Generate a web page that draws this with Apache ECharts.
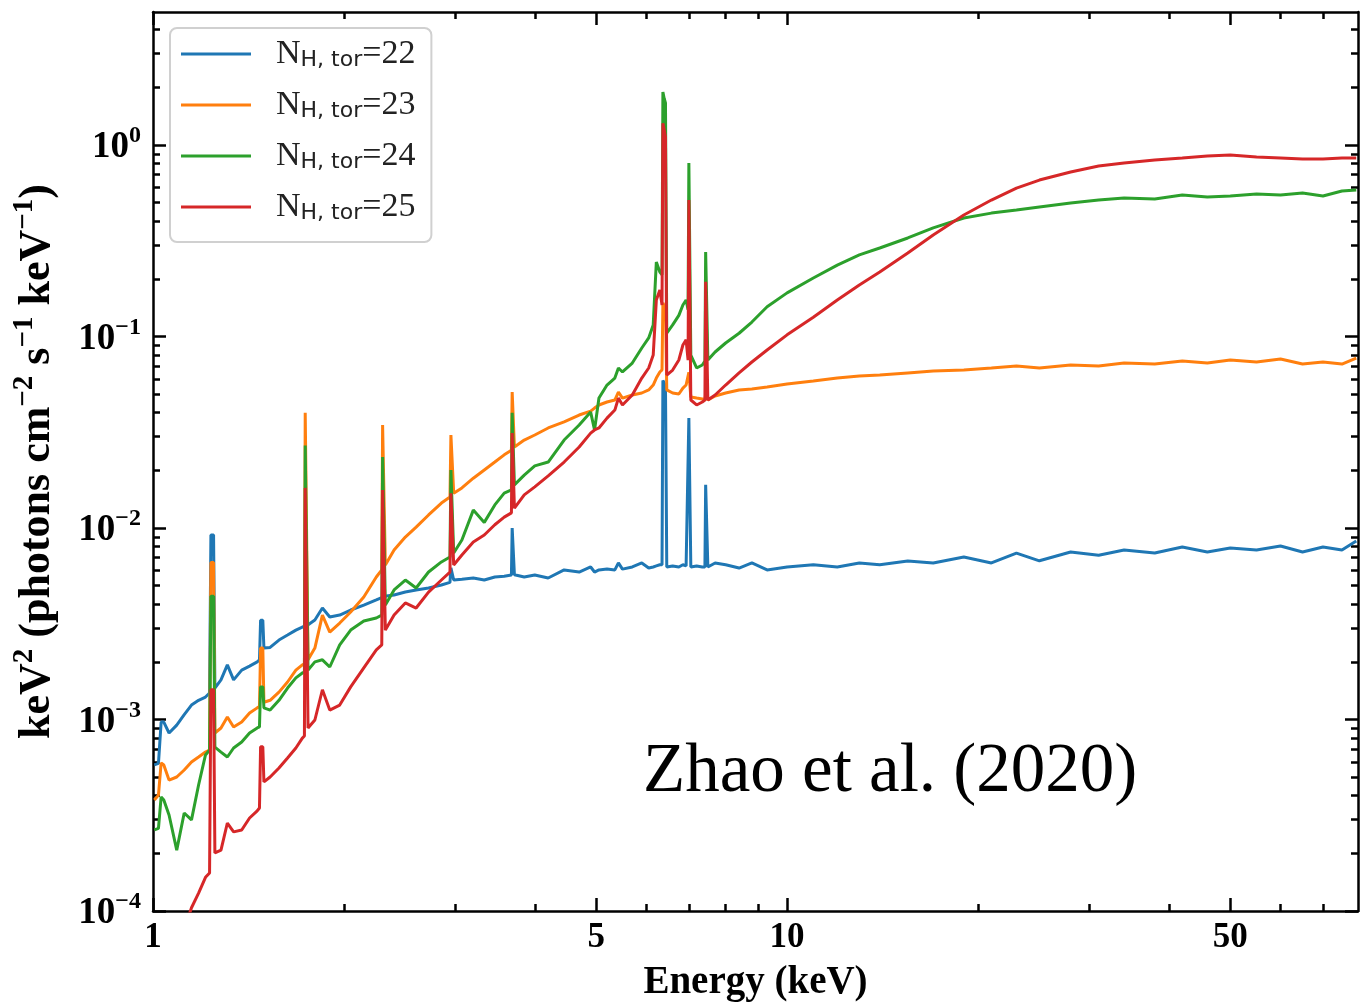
<!DOCTYPE html>
<html>
<head>
<meta charset="utf-8">
<title>Torus column density spectra</title>
<script src="https://cdn.jsdelivr.net/npm/echarts@6.0.0/dist/echarts.min.js"></script>
<style>
  html, body { margin: 0; padding: 0; background: #fff; }
  #chart { width: 1366px; height: 1005px; }
</style>
</head>
<body>
<div id="chart"></div>
<script>
// energy grid in keV, shared by the four spectra (line energies get a narrow pair of points)
var energy = [
  1.005, 1.02, 1.03, 1.04, 1.06, 1.09, 1.12, 1.15, 1.18, 1.21,
  1.228, 1.234, 1.246, 1.252, 1.28, 1.31, 1.34, 1.38, 1.42, 1.46,
  1.472, 1.478, 1.49, 1.496, 1.53, 1.58, 1.63, 1.68, 1.72, 1.733,
  1.738, 1.75, 1.756, 1.80, 1.85, 1.90, 1.97, 2.05, 2.15, 2.25,
  2.295, 2.302, 2.318, 2.325, 2.40, 2.50, 2.60, 2.72, 2.85, 2.94,
  2.95, 2.97, 2.98, 3.07, 3.20, 3.33, 3.46, 3.58, 3.675, 3.685,
  3.705, 3.715, 3.85, 4.0, 4.2, 4.45, 4.7, 4.9, 4.97, 5.05,
  5.2, 5.35, 5.42, 5.5, 5.7, 5.9, 6.05, 6.15, 6.22, 6.30,
  6.35, 6.37, 6.40, 6.43, 6.46, 6.60, 6.75, 6.85, 6.93, 6.98,
  7.00, 7.03, 7.05, 7.20, 7.35, 7.42, 7.44, 7.48, 7.50, 7.70,
  8.0, 8.4, 8.8, 9.3, 10, 11, 12, 13, 14, 15.5,
  17, 19, 21, 23, 25, 28, 31, 34, 38, 42,
  46, 50, 55, 60, 65, 70, 75, 79
];

// keV^2 (photons cm^-2 s^-1 keV^-1), log NH,tor = 22
var nh22 = [
  5.8e-4, 5.9e-4, 9.7e-4, 9.7e-4, 8.5e-4, 9.35e-4, 1.06e-3, 1.19e-3, 1.26e-3, 1.31e-3,
  1.375e-3, 9.2e-3, 9.2e-3, 1.46e-3, 1.61e-3, 1.93e-3, 1.61e-3, 1.81e-3, 1.90e-3, 2.0e-3,
  2.05e-3, 3.3e-3, 3.3e-3, 2.36e-3, 2.38e-3, 2.60e-3, 2.76e-3, 2.93e-3, 3.04e-3, 3.06e-3,
  3.1e-3, 3.1e-3, 3.04e-3, 3.31e-3, 3.82e-3, 3.43e-3, 3.51e-3, 3.73e-3, 3.96e-3, 4.21e-3,
  4.33e-3, 4.4e-3, 4.4e-3, 4.42e-3, 4.47e-3, 4.63e-3, 4.75e-3, 4.86e-3, 5.04e-3, 5.2e-3,
  6.2e-3, 6.2e-3, 5.35e-3, 5.4e-3, 5.48e-3, 5.35e-3, 5.55e-3, 5.6e-3, 5.68e-3, 1.0e-2,
  1.0e-2, 5.7e-3, 5.55e-3, 5.68e-3, 5.48e-3, 6.04e-3, 5.89e-3, 6.26e-3, 5.89e-3, 6.04e-3,
  6.1e-3, 6.04e-3, 6.57e-3, 6.1e-3, 6.26e-3, 6.57e-3, 6.18e-3, 6.26e-3, 6.34e-3, 6.43e-3,
  6.43e-3, 5.9e-2, 5.9e-2, 5.5e-2, 6.26e-3, 6.34e-3, 6.26e-3, 6.43e-3, 6.34e-3, 6.34e-3,
  3.75e-2, 3.75e-2, 6.26e-3, 6.34e-3, 6.26e-3, 6.26e-3, 1.68e-2, 1.68e-2, 6.26e-3, 6.57e-3,
  6.43e-3, 6.18e-3, 6.57e-3, 6.04e-3, 6.26e-3, 6.43e-3, 6.26e-3, 6.57e-3, 6.43e-3, 6.72e-3,
  6.57e-3, 7.06e-3, 6.57e-3, 7.40e-3, 6.74e-3, 7.49e-3, 7.2e-3, 7.67e-3, 7.40e-3, 7.96e-3,
  7.49e-3, 7.86e-3, 7.67e-3, 8.05e-3, 7.49e-3, 7.96e-3, 7.67e-3, 8.55e-3
];

// log NH,tor = 23
var nh23 = [
  3.80e-4, 4.03e-4, 5.93e-4, 5.79e-4, 4.83e-4, 5.01e-4, 5.45e-4, 6.0e-4, 6.37e-4, 6.76e-4,
  6.93e-4, 6.6e-3, 6.6e-3, 8.5e-4, 9.03e-4, 1.03e-3, 9.14e-4, 9.7e-4, 1.08e-3, 1.15e-3,
  1.17e-3, 2.36e-3, 2.36e-3, 1.23e-3, 1.26e-3, 1.39e-3, 1.57e-3, 1.81e-3, 1.93e-3, 1.95e-3,
  4.0e-2, 4.0e-2, 2.05e-3, 2.36e-3, 3.51e-3, 2.86e-3, 3.19e-3, 3.64e-3, 4.36e-3, 5.55e-3,
  6.04e-3, 3.45e-2, 3.45e-2, 6.41e-3, 7.67e-3, 8.97e-3, 1.01e-2, 1.17e-2, 1.35e-2, 1.45e-2,
  3.06e-2, 3.06e-2, 1.52e-2, 1.62e-2, 1.82e-2, 2.01e-2, 2.21e-2, 2.41e-2, 2.55e-2, 5.13e-2,
  5.13e-2, 2.65e-2, 2.88e-2, 3.06e-2, 3.33e-2, 3.58e-2, 3.89e-2, 4.08e-2, 4.23e-2, 4.39e-2,
  4.55e-2, 4.66e-2, 5.13e-2, 4.77e-2, 4.95e-2, 5.07e-2, 5.26e-2, 5.58e-2, 6.07e-2, 6.53e-2,
  6.7e-2, 0.15, 0.15, 0.14, 5.26e-2, 5.07e-2, 5.01e-2, 5.38e-2, 5.58e-2, 5.45e-2,
  6.5e-2, 6.5e-2, 4.83e-2, 4.77e-2, 4.72e-2, 4.66e-2, 5.0e-2, 5.0e-2, 4.66e-2, 4.89e-2,
  5.07e-2, 5.26e-2, 5.32e-2, 5.45e-2, 5.65e-2, 5.86e-2, 6.07e-2, 6.22e-2, 6.29e-2, 6.45e-2,
  6.6e-2, 6.68e-2, 6.85e-2, 7.01e-2, 6.85e-2, 7.10e-2, 7.01e-2, 7.27e-2, 7.18e-2, 7.45e-2,
  7.27e-2, 7.54e-2, 7.36e-2, 7.63e-2, 7.18e-2, 7.36e-2, 7.18e-2, 7.72e-2
];

// log NH,tor = 24
var nh24 = [
  2.65e-4, 2.70e-4, 3.94e-4, 3.80e-4, 3.17e-4, 2.08e-4, 3.25e-4, 2.99e-4, 4.55e-4, 6.53e-4,
  6.93e-4, 4.4e-3, 4.4e-3, 7.18e-4, 6.76e-4, 6.37e-4, 7.1e-4, 7.63e-4, 8.5e-4, 9.03e-4,
  9.14e-4, 1.48e-3, 1.48e-3, 1.15e-3, 1.12e-3, 1.26e-3, 1.46e-3, 1.65e-3, 1.75e-3, 1.77e-3,
  2.7e-2, 2.7e-2, 1.81e-3, 2.0e-3, 2.05e-3, 1.88e-3, 2.45e-3, 2.93e-3, 3.27e-3, 3.39e-3,
  3.51e-3, 2.35e-2, 2.35e-2, 3.96e-3, 4.75e-3, 5.35e-3, 4.86e-3, 5.89e-3, 6.65e-3, 7.06e-3,
  2.01e-2, 2.01e-2, 7.40e-3, 8.65e-3, 1.24e-2, 1.07e-2, 1.32e-2, 1.52e-2, 1.58e-2, 4.0e-2,
  4.0e-2, 1.68e-2, 1.89e-2, 2.11e-2, 2.21e-2, 2.88e-2, 3.45e-2, 4.03e-2, 3.25e-2, 4.77e-2,
  5.58e-2, 6.07e-2, 6.85e-2, 6.53e-2, 7.27e-2, 8.71e-2, 9.83e-2, 0.115, 0.245, 0.217,
  0.21, 1.89, 1.75, 1.66, 0.104, 0.115, 0.129, 0.146, 0.155, 0.138,
  0.805, 0.805, 8.0e-2, 6.85e-2, 7.1e-2, 7.45e-2, 0.276, 0.276, 7.54e-2, 8.3e-2,
  9.25e-2, 0.104, 0.119, 0.143, 0.169, 0.202, 0.236, 0.267, 0.290, 0.327,
  0.369, 0.416, 0.441, 0.458, 0.475, 0.498, 0.516, 0.529, 0.522, 0.548,
  0.535, 0.542, 0.555, 0.548, 0.561, 0.542, 0.575, 0.582
];

// log NH,tor = 25
var nh25 = [
  5.0e-5, 5.3e-5, 5.5e-5, 5.7e-5, 6.0e-5, 7.0e-5, 8.0e-5, 1.04e-4, 1.24e-4, 1.50e-4,
  1.58e-4, 1.43e-3, 1.43e-3, 2.01e-4, 2.08e-4, 2.88e-4, 2.59e-4, 2.65e-4, 3.06e-4, 3.33e-4,
  3.45e-4, 7.2e-4, 7.2e-4, 4.72e-4, 5.01e-4, 5.58e-4, 6.30e-4, 7.10e-4, 8.0e-4, 8.2e-4,
  1.62e-2, 1.62e-2, 9.03e-4, 9.94e-4, 1.43e-3, 1.12e-3, 1.19e-3, 1.48e-3, 1.86e-3, 2.31e-3,
  2.45e-3, 1.58e-2, 1.58e-2, 2.93e-3, 3.51e-3, 4.06e-3, 3.82e-3, 4.63e-3, 5.35e-3, 5.89e-3,
  1.52e-2, 1.52e-2, 6.41e-3, 7.23e-3, 8.45e-3, 9.19e-3, 1.04e-2, 1.14e-2, 1.20e-2, 3.13e-2,
  3.13e-2, 1.27e-2, 1.49e-2, 1.64e-2, 1.87e-2, 2.21e-2, 2.65e-2, 3.13e-2, 3.25e-2, 3.33e-2,
  3.75e-2, 4.13e-2, 4.77e-2, 4.39e-2, 4.95e-2, 6.07e-2, 6.85e-2, 8.0e-2, 0.155, 0.175,
  0.146, 1.30, 1.20, 1.10, 6.29e-2, 6.68e-2, 7.54e-2, 9.03e-2, 9.6e-2, 7.54e-2,
  0.516, 0.516, 4.66e-2, 4.39e-2, 4.55e-2, 4.66e-2, 0.193, 0.193, 4.66e-2, 4.95e-2,
  5.58e-2, 6.45e-2, 7.36e-2, 8.5e-2, 0.102, 0.126, 0.155, 0.186, 0.217, 0.273,
  0.339, 0.431, 0.516, 0.596, 0.656, 0.723, 0.777, 0.805, 0.835, 0.855,
  0.876, 0.887, 0.865, 0.855, 0.845, 0.845, 0.855, 0.855
];

var seriesNames = ['22', '23', '24', '25'];
var seriesColors = ['#1f77b4', '#ff7f0e', '#2ca02c', '#d62728'];

// tick positions
var xMajorTicks = [1, 5, 10, 50];
var xMinorTicks = [2, 3, 4, 6, 7, 8, 9, 20, 30, 40, 60, 70];
var yMajorTicks = [1e-4, 1e-3, 1e-2, 1e-1, 1];
var yMinorTicks = [];
for (var d = -4; d <= 0; d++) {
  for (var m = 2; m <= 9; m++) {
    var t = m * Math.pow(10, d);
    if (t < 4.95) yMinorTicks.push(t);
  }
}

var X_MIN = 1, X_MAX = 79.5, Y_MIN = 1e-4, Y_MAX = 4.95;
var SERIF = 'Liberation Serif';

function pairs(vals) {
  return energy.map(function (e, i) { return [e, vals[i]]; });
}

// one log axis per tick set; extra copies only carry ticks (top/right mirrors, minor ticks)
function xAxisFor(position, ticks, tickLen, withLine) {
  return {
    type: 'log', logBase: 10, min: X_MIN, max: X_MAX, position: position,
    axisLine: { show: withLine, lineStyle: { color: '#000', width: 2.5 } },
    axisTick: { show: true, inside: true, length: tickLen, customValues: ticks,
                lineStyle: { color: '#000', width: 2.5 } },
    axisLabel: { show: false },
    splitLine: { show: false },
    minorTick: { show: false }
  };
}
function yAxisFor(position, ticks, tickLen, withLine) {
  return {
    type: 'log', logBase: 10, min: Y_MIN, max: Y_MAX, position: position,
    axisLine: { show: withLine, lineStyle: { color: '#000', width: 2.5 } },
    axisTick: { show: true, inside: true, length: tickLen, customValues: ticks,
                lineStyle: { color: '#000', width: 2.5 } },
    axisLabel: { show: false },
    splitLine: { show: false },
    minorTick: { show: false }
  };
}

var xMain = xAxisFor('bottom', xMajorTicks, 13, true);
xMain.axisLabel = {
  show: true, customValues: xMajorTicks, margin: 9, color: '#000',
  fontFamily: SERIF, fontWeight: 'bold', fontSize: 35,
  showMinLabel: true, showMaxLabel: true,
  formatter: function (v) { return String(Math.round(v)); }
};
xMain.name = 'Energy (keV)';
xMain.nameLocation = 'middle';
xMain.nameGap = 52;
xMain.nameTextStyle = { fontFamily: SERIF, fontWeight: 'bold', fontSize: 39, color: '#000' };

var yMain = yAxisFor('left', yMajorTicks, 13, true);
yMain.axisLabel = {
  show: true, customValues: yMajorTicks, margin: 12, color: '#000',
  showMinLabel: true, showMaxLabel: true,
  formatter: function (v) {
    var e = Math.round(Math.log10(v));
    return '{b|10}{s|' + (e < 0 ? '\u2212' + (-e) : e) + '}';
  },
  rich: {
    b: { fontFamily: SERIF, fontWeight: 'bold', fontSize: 37, color: '#000', lineHeight: 42, verticalAlign: 'bottom' },
    s: { fontFamily: SERIF, fontWeight: 'bold', fontSize: 24, color: '#000', lineHeight: 24, verticalAlign: 'top' }
  }
};
yMain.name = '{t|keV}{s|2}{t| (photons cm}{s|\u22122}{t| s}{s|\u22121}{t| keV}{s|\u22121}{t|)}';
yMain.nameLocation = 'middle';
yMain.nameGap = 93;
yMain.nameTextStyle = {
  rich: {
    t: { fontFamily: SERIF, fontWeight: 'bold', fontSize: 44, color: '#000', lineHeight: 50, verticalAlign: 'bottom' },
    s: { fontFamily: SERIF, fontWeight: 'bold', fontSize: 29, color: '#000', lineHeight: 28, verticalAlign: 'top' }
  }
};

var chart = echarts.init(document.getElementById('chart'), null, { renderer: 'canvas' });

var option = {
  animation: false,
  backgroundColor: '#fff',
  title: {
    text: 'Zhao et al. (2020)',
    left: 643, top: 738, padding: 0,
    textStyle: { fontFamily: SERIF, fontWeight: 'normal', fontSize: 69, color: '#000' }
  },
  grid: { left: 153, right: 8, top: 12, bottom: 94, containLabel: false, outerBoundsMode: 'none' },
  legend: {
    orient: 'vertical', left: 170, top: 28,
    padding: [9, 16, 18, 11],
    icon: 'rect',
    itemWidth: 70, itemHeight: 3, itemGap: 17,
    backgroundColor: 'rgba(255,255,255,0.8)',
    borderColor: '#d0d0d0', borderWidth: 2, borderRadius: 7,
    data: seriesNames,
    formatter: function (name) {
      return '{n0|N}{s|H, tor}{n|=' + name + '}';
    },
    textStyle: {
      rich: {
        n0: { fontFamily: SERIF, fontSize: 34, color: '#222', lineHeight: 34, verticalAlign: 'top', padding: [0, 0, 0, 20] },
        n: { fontFamily: SERIF, fontSize: 34, color: '#222', lineHeight: 34, verticalAlign: 'top' },
        s: { fontFamily: 'DejaVu Sans', fontSize: 22, color: '#222', lineHeight: 20, verticalAlign: 'bottom' }
      }
    }
  },
  xAxis: [
    xMain,
    xAxisFor('bottom', xMinorTicks, 7, false),
    xAxisFor('top', xMajorTicks, 13, true),
    xAxisFor('top', xMinorTicks, 7, false)
  ],
  yAxis: [
    yMain,
    yAxisFor('left', yMinorTicks, 7, false),
    yAxisFor('right', yMajorTicks, 13, true),
    yAxisFor('right', yMinorTicks, 7, false)
  ],
  series: [nh22, nh23, nh24, nh25].map(function (vals, i) {
    return {
      name: seriesNames[i],
      type: 'line',
      xAxisIndex: 0, yAxisIndex: 0,
      data: pairs(vals),
      symbol: 'none',
      showSymbol: false,
      clip: true,
      lineStyle: { width: 3, color: seriesColors[i] },
      itemStyle: { color: seriesColors[i] }
    };
  })
};

chart.setOption(option);
</script>
</body>
</html>
